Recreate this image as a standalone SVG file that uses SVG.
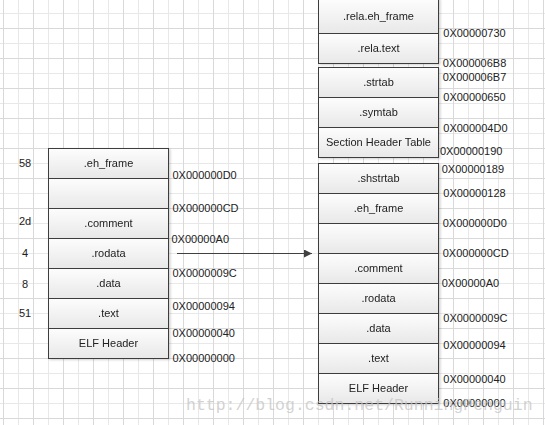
<svg xmlns="http://www.w3.org/2000/svg" width="545" height="425" viewBox="0 0 545 425">
<defs>
<pattern id="grid" x="3" y="28" width="30" height="30" patternUnits="userSpaceOnUse">
<rect x="15" y="0" width="1" height="30" fill="#e8e8e8"/>
<rect x="0" y="15" width="30" height="1" fill="#e8e8e8"/>
<rect x="0" y="0" width="1" height="30" fill="#d9d9d9"/>
<rect x="0" y="0" width="30" height="1" fill="#d9d9d9"/>
</pattern>
<linearGradient id="cellg" x1="0" y1="0" x2="0" y2="1">
<stop offset="0" stop-color="#fdfdfd"/>
<stop offset="1" stop-color="#e8e8e8"/>
</linearGradient>
<marker id="arr" markerWidth="9" markerHeight="8" refX="8" refY="4" orient="auto" markerUnits="userSpaceOnUse">
<path d="M0,0 L8,4 L0,8 Z" fill="#404040"/>
</marker>
<filter id="sh" x="-10%" y="-10%" width="130%" height="130%">
<feDropShadow dx="1.5" dy="1" stdDeviation="0.8" flood-color="#000" flood-opacity="0.18"/>
</filter>
</defs>
<style>
.cell{fill:url(#cellg);stroke:#3c3c3c;stroke-width:1}
.lbl{font-family:"Liberation Sans",Arial,sans-serif;font-size:11px;fill:#222;text-anchor:middle}
.addr{font-family:"Liberation Sans",Arial,sans-serif;font-size:11px;fill:#222}
.num{font-family:"Liberation Sans",Arial,sans-serif;font-size:11px;fill:#222;text-anchor:middle}
.wm{font-family:"Liberation Mono","DejaVu Sans Mono",monospace;font-size:16.5px;fill:#c4c4c4;fill-opacity:0.75}
</style>
<rect width="545" height="425" fill="#ffffff"/>
<rect width="545" height="425" fill="url(#grid)"/>

<g id="left-stack" filter="url(#sh)">
<g id="l-eh_frame"><rect class="cell" x="48.5" y="148.5" width="120" height="30"/><text class="lbl" x="108.5" y="167">.eh_frame</text></g>
<g id="l-blank"><rect class="cell" x="48.5" y="178.5" width="120" height="30"/></g>
<g id="l-comment"><rect class="cell" x="48.5" y="208.5" width="120" height="30"/><text class="lbl" x="108.5" y="227">.comment</text></g>
<g id="l-rodata"><rect class="cell" x="48.5" y="238.5" width="120" height="30"/><text class="lbl" x="108.5" y="257">.rodata</text></g>
<g id="l-data"><rect class="cell" x="48.5" y="268.5" width="120" height="30"/><text class="lbl" x="108.5" y="287">.data</text></g>
<g id="l-text"><rect class="cell" x="48.5" y="298.5" width="120" height="30"/><text class="lbl" x="108.5" y="317">.text</text></g>
<g id="l-elf"><rect class="cell" x="48.5" y="328.5" width="120" height="30"/><text class="lbl" x="108.5" y="347">ELF Header</text></g>
</g>

<g id="left-sizes">
<text class="num" x="25" y="167">58</text>
<text class="num" x="25" y="225">2d</text>
<text class="num" x="25" y="257">4</text>
<text class="num" x="25" y="288">8</text>
<text class="num" x="25" y="317">51</text>
</g>

<g id="left-addrs">
<text class="addr" x="172.5" y="179">0X000000D0</text>
<text class="addr" x="172.5" y="212">0X000000CD</text>
<text class="addr" x="171.5" y="243">0X00000A0</text>
<text class="addr" x="172.5" y="277">0X0000009C</text>
<text class="addr" x="172.5" y="309.5">0X00000094</text>
<text class="addr" x="172.5" y="336.5">0X00000040</text>
<text class="addr" x="172.5" y="362">0X00000000</text>
</g>

<g id="right-stack" filter="url(#sh)">
<g id="r-rela-eh"><rect class="cell" x="318.5" y="-1.5" width="120" height="35"/><text class="lbl" x="378.5" y="20">.rela.eh_frame</text></g>
<g id="r-rela-text"><rect class="cell" x="318.5" y="33.5" width="120" height="30"/><text class="lbl" x="378.5" y="51.7">.rela.text</text></g>
<g id="r-strtab"><rect class="cell" x="318.5" y="67.5" width="120" height="30"/><text class="lbl" x="378.5" y="85.7">.strtab</text></g>
<g id="r-symtab"><rect class="cell" x="318.5" y="97.5" width="120" height="30"/><text class="lbl" x="378.5" y="115.7">.symtab</text></g>
<g id="r-sht"><rect class="cell" x="318.5" y="127.5" width="120" height="30"/><text class="lbl" x="378.5" y="146.3">Section Header Table</text></g>
<g id="r-shstrtab"><rect class="cell" x="318.5" y="163.5" width="120" height="30"/><text class="lbl" x="378.5" y="182">.shstrtab</text></g>
<g id="r-eh_frame"><rect class="cell" x="318.5" y="193.5" width="120" height="30"/><text class="lbl" x="378.5" y="212">.eh_frame</text></g>
<g id="r-blank"><rect class="cell" x="318.5" y="223.5" width="120" height="30"/></g>
<g id="r-comment"><rect class="cell" x="318.5" y="253.5" width="120" height="30"/><text class="lbl" x="378.5" y="272">.comment</text></g>
<g id="r-rodata"><rect class="cell" x="318.5" y="283.5" width="120" height="30"/><text class="lbl" x="378.5" y="302">.rodata</text></g>
<g id="r-data"><rect class="cell" x="318.5" y="313.5" width="120" height="30"/><text class="lbl" x="378.5" y="332">.data</text></g>
<g id="r-text"><rect class="cell" x="318.5" y="343.5" width="120" height="30"/><text class="lbl" x="378.5" y="362">.text</text></g>
<g id="r-elf"><rect class="cell" x="318.5" y="373.5" width="120" height="30"/><text class="lbl" x="378.5" y="392">ELF Header</text></g>
</g>

<g id="right-addrs">
<text class="addr" x="443.3" y="37.3">0X00000730</text>
<text class="addr" x="442.7" y="67.3">0X000006B8</text>
<text class="addr" x="442.7" y="81.3">0X000006B7</text>
<text class="addr" x="443.3" y="100.7">0X00000650</text>
<text class="addr" x="443.3" y="132.3">0X000004D0</text>
<text class="addr" x="440" y="154.7">0X00000190</text>
<text class="addr" x="441.7" y="173.3">0X00000189</text>
<text class="addr" x="443.3" y="197.3">0X00000128</text>
<text class="addr" x="442.7" y="227.3">0X000000D0</text>
<text class="addr" x="442.7" y="257.3">0X000000CD</text>
<text class="addr" x="441.7" y="287.3">0X00000A0</text>
<text class="addr" x="443.3" y="322.3">0X0000009C</text>
<text class="addr" x="443.3" y="349">0X00000094</text>
<text class="addr" x="443.3" y="383">0X00000040</text>
<text class="addr" x="443.3" y="407.3">0X00000000</text>
</g>

<g id="connectors">
<line x1="177" y1="253.5" x2="312" y2="253.5" stroke="#404040" stroke-width="1" marker-end="url(#arr)"/>
</g>

<text class="wm" x="186" y="410">http://blog.csdn.net/RunningPenguin</text>
</svg>
